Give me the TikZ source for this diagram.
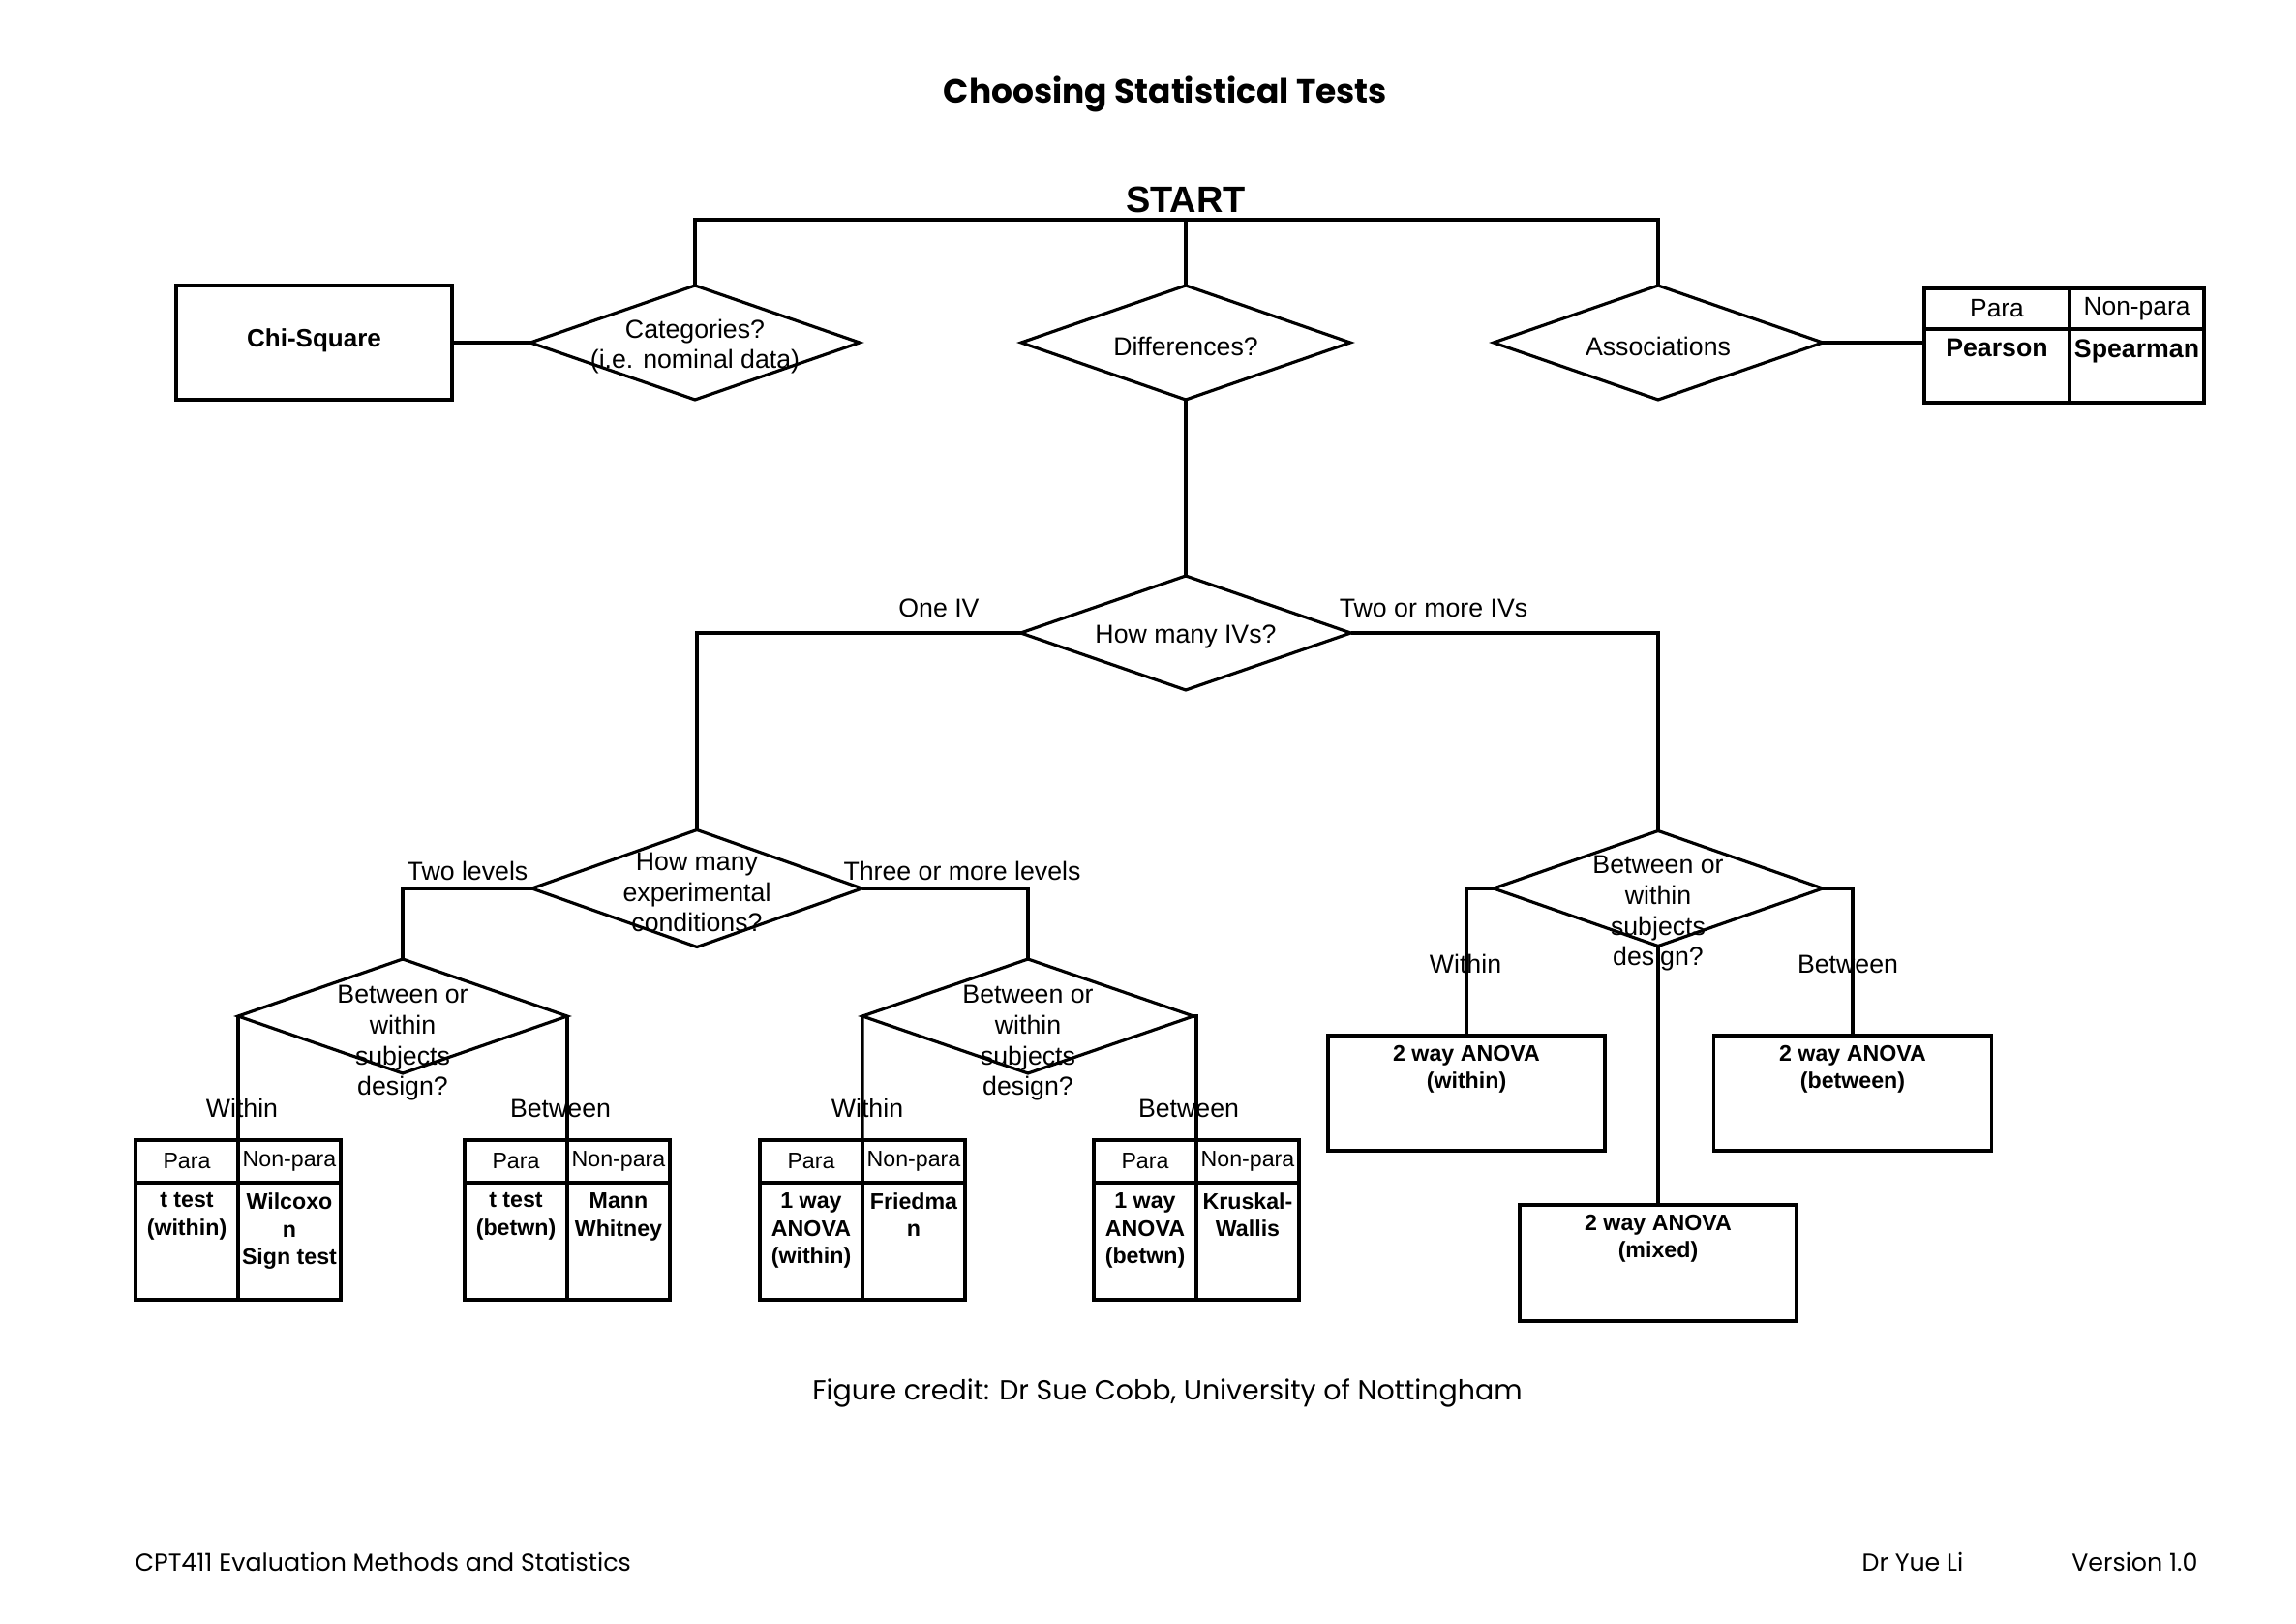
\documentclass[tikz,border=0pt]{standalone}
\usepackage{fontspec}
\setmainfont{Liberation Sans}
\newfontfamily\poppins{Poppins}
\usetikzlibrary{shapes.geometric}
\tikzset{
  quest/.style={diamond, draw, line width=0.9pt, minimum width=3.40cm, minimum height=1.18cm, inner sep=0, outer sep=0},
  qtext/.style={align=center, yshift=-0.04cm, font=\fontsize{7.6}{9}\selectfont},
  lbl/.style={font=\fontsize{7.6}{8.8}\selectfont, inner sep=0},
  resbox/.style={draw, line width=1.1pt, minimum width=2.86cm, minimum height=1.19cm, inner sep=0, outer sep=0},
  restext/.style={align=center, font=\bfseries\fontsize{6.6}{8}\selectfont, inner sep=2.5pt},
  hcell/.style={draw, line width=1.1pt, minimum width=1.06cm, minimum height=0.44cm, inner sep=0, outer sep=0, font=\fontsize{6.6}{7.6}\selectfont},
  bcell/.style={draw, line width=1.1pt, minimum width=1.06cm, minimum height=1.21cm, inner sep=0, outer sep=0},
  btext/.style={align=center, font=\bfseries\fontsize{6.6}{8.2}\selectfont, inner sep=2.5pt},
}
\begin{document}
\begin{tikzpicture}[line width=0.9pt]
\useasboundingbox (0,0) rectangle (23.72,-16.78);
\node[font=\poppins\bfseries\fontsize{9.8}{12}\selectfont] (title) at (12.04,-0.97) {Choosing Statistical Tests};
\node[font=\bfseries\fontsize{10.8}{13}\selectfont, inner sep=0, inner ysep=2pt, outer sep=0, anchor=south] (start) at (12.25,-2.27) {START};

\node[quest, label={[qtext]center:{Categories?\\(i.e. nominal data)}}] (cat) at (7.18,-3.54) {};
\node[quest, label={[qtext]center:Differences?}] (diff) at (12.25,-3.54) {};
\node[quest, label={[qtext]center:Associations}] (assoc) at (17.13,-3.54) {};
\node[draw, line width=1.1pt, minimum width=2.85cm, minimum height=1.18cm, outer sep=0, text depth=0.09cm, font=\bfseries\fontsize{7.4}{9}\selectfont] (chi) at (3.245,-3.54) {Chi-Square};

\node[draw, line width=1.1pt, minimum width=1.50cm, minimum height=0.42cm, inner sep=0, outer sep=0, anchor=north west, font=\fontsize{7.5}{8.5}\selectfont] (pp) at (19.88,-2.98) {Para};
\node[draw, line width=1.1pt, minimum width=1.39cm, minimum height=0.42cm, inner sep=0, outer sep=0, anchor=north west, font=\fontsize{7.5}{8.5}\selectfont] (pn) at (pp.north east) {Non-para};
\node[draw, line width=1.1pt, minimum width=1.50cm, minimum height=0.76cm, inner sep=0, outer sep=0, anchor=north, label={[btext, font=\bfseries\fontsize{7.6}{9}\selectfont, anchor=north]north:Pearson}] (ppb) at (pp.south) {};
\node[draw, line width=1.1pt, minimum width=1.39cm, minimum height=0.76cm, inner sep=0, outer sep=0, anchor=north, label={[btext, font=\bfseries\fontsize{7.6}{9}\selectfont, anchor=north]north:Spearman}] (pnb) at (pn.south) {};

\draw (cat.north) |- (start.south) -| (assoc.north);
\draw (start.south) -- (diff.north);
\draw (chi.east) -- (cat.west);
\draw (assoc.east) -- (assoc.east -| ppb.west);

\node[quest, minimum width=3.41cm, label={[qtext]center:How many IVs?}] (ivs) at (12.25,-6.54) {};
\node[quest, minimum width=3.41cm, minimum height=1.21cm, label={[qtext]center:{How many\\experimental\\conditions?}}] (cond) at (7.20,-9.18) {};
\node[quest, minimum height=1.19cm, label={[qtext, yshift=-0.22cm]center:{Between or\\within\\subjects\\design?}}] (bw3) at (17.13,-9.18) {};
\node[quest, label={[qtext, yshift=-0.24cm]center:{Between or\\within\\subjects\\design?}}] (bw1) at (4.16,-10.50) {};
\node[quest, minimum width=3.42cm, label={[qtext, yshift=-0.24cm]center:{Between or\\within\\subjects\\design?}}] (bw2) at (10.62,-10.50) {};

\draw (diff.south) -- (ivs.north);
\draw (ivs.west) -| (cond.north);
\draw (ivs.east) -| (bw3.north);
\draw (cond.west) -| (bw1.north);
\draw (cond.east) -| (bw2.north);
\node[lbl] (oneiv) at (9.70,-6.28) {One IV};
\node[lbl] (twoiv) at (14.81,-6.28) {Two or more IVs};
\node[lbl] (twolev) at (4.83,-9.00) {Two levels};
\node[lbl] (threelev) at (9.94,-9.00) {Three or more levels};

\foreach \n/\x/\pa/\np in {t1/2.46/{t test\\(within)}/{Wilcoxo\\n\\Sign test},
  t2/5.86/{t test\\(betwn)}/{Mann\\Whitney},
  t3/8.91/{1 way\\ANOVA\\(within)}/{Friedma\\n},
  t4/12.36/{1 way\\ANOVA\\(betwn)}/{Kruskal-\\Wallis}}
{
  \node[hcell, anchor=north east] (\n-p) at (\x,-11.78) {Para};
  \node[hcell, anchor=north west] (\n-n) at (\x,-11.78) {Non-para};
  \node[bcell, anchor=north, label={[btext, anchor=north]north:\pa}] (\n-pb) at (\n-p.south) {};
  \node[bcell, anchor=north, label={[btext, anchor=north]north:\np}] (\n-nb) at (\n-n.south) {};
}
\draw (bw1.west) -- (t1-p.north east);
\draw (bw1.east) -| (t2-p.north east);
\draw (bw2.west) -- (t3-p.north east);
\draw (bw2.east) -| (t4-p.north east);
\node[lbl] (w1) at (2.50,-11.45) {Within};
\node[lbl] (b1) at (5.79,-11.45) {Between};
\node[lbl] (w2) at (8.96,-11.45) {Within};
\node[lbl] (b2) at (12.28,-11.45) {Between};

\node[resbox, label={[restext, anchor=north]north:{2 way ANOVA\\(within)}}] (rw) at (15.15,-11.295) {};
\node[resbox, minimum width=2.87cm, label={[restext, anchor=north]north:{2 way ANOVA\\(between)}}] (rb) at (19.14,-11.295) {};
\node[resbox, minimum height=1.20cm, label={[restext, anchor=north]north:{2 way ANOVA\\(mixed)}}] (rm) at (17.13,-13.05) {};
\draw (bw3.west) -| (rw.north);
\draw (bw3.east) -| (rb.north);
\draw (bw3.south) -- (rm.north);
\node[lbl] (w3) at (15.14,-9.96) {Within};
\node[lbl] (b3) at (19.09,-9.96) {Between};

\node[font=\poppins\fontsize{8.1}{10}\selectfont] (credit) at (12.06,-14.39) {Figure credit: Dr Sue Cobb, University of Nottingham};
\node[font=\poppins\fontsize{7.2}{8}\selectfont, anchor=west, inner sep=0] (course) at (1.38,-16.14) {CPT411 Evaluation Methods and Statistics};
\node[font=\poppins\fontsize{7.2}{8}\selectfont] (author) at (19.76,-16.14) {Dr Yue Li};
\node[font=\poppins\fontsize{7.2}{8}\selectfont, anchor=east, inner sep=0] (version) at (22.72,-16.14) {Version 1.0};
\end{tikzpicture}
\end{document}
